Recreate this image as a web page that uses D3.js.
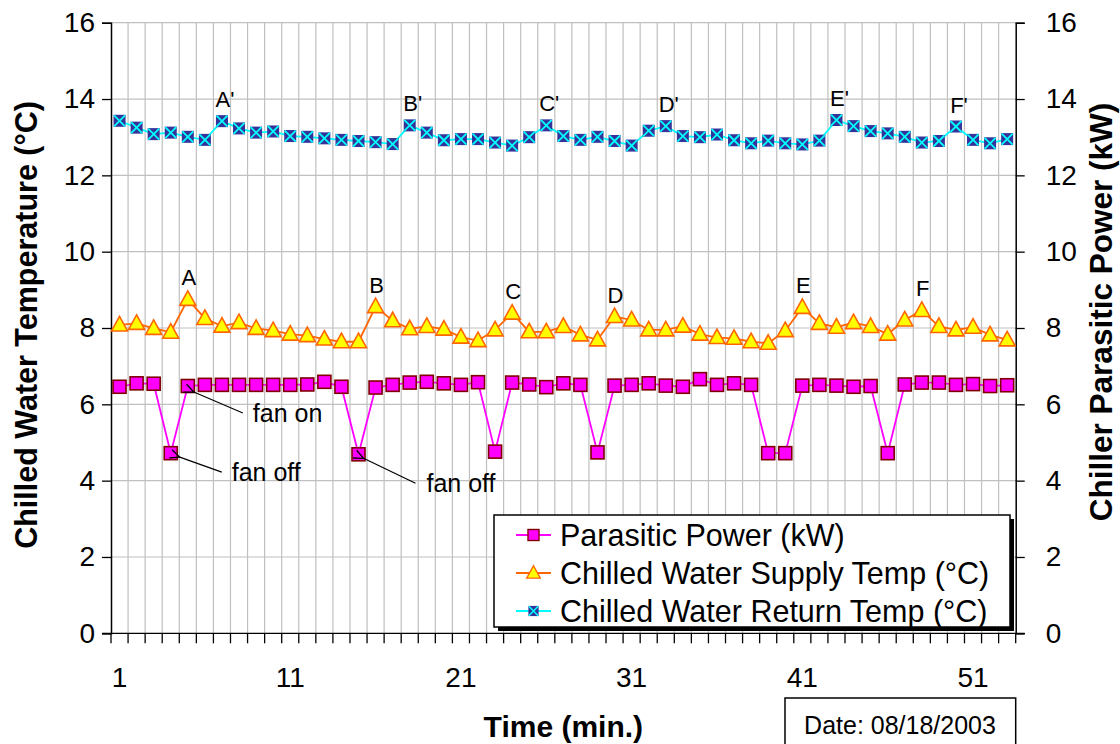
<!DOCTYPE html>
<html>
<head>
<meta charset="utf-8">
<script src="https://cdn.jsdelivr.net/npm/d3@7"></script>
<style>
  html, body { margin: 0; padding: 0; background: #fff; }
  svg { display: block; }
  text { font-family: "Liberation Sans", Arial, sans-serif; }
</style>
</head>
<body>
<svg id="chart" width="1120" height="744"></svg>
<script>
// Minute index (1..53)
const minutes = d3.range(1, 54);

// Chiller parasitic power, kW (right axis)
const parasiticPower = [
  6.46, 6.55, 6.54, 4.72, 6.48, 6.51, 6.51, 6.51, 6.51, 6.51,
  6.51, 6.52, 6.59, 6.46, 4.69, 6.44, 6.51, 6.57, 6.59, 6.55,
  6.51, 6.58, 4.76, 6.57, 6.52, 6.45, 6.55, 6.51, 4.74, 6.49,
  6.51, 6.55, 6.49, 6.46, 6.66, 6.51, 6.55, 6.51, 4.72, 4.72,
  6.49, 6.51, 6.49, 6.46, 6.48, 4.72, 6.52, 6.57, 6.57, 6.51,
  6.53, 6.48, 6.50
];

// Chilled water supply temperature, °C
const supplyTemp = [
  8.08, 8.12, 7.99, 7.89, 8.75, 8.25, 8.05, 8.14, 7.99, 7.93,
  7.84, 7.80, 7.71, 7.64, 7.64, 8.56, 8.19, 7.98, 8.04, 7.97,
  7.76, 7.67, 7.95, 8.39, 7.90, 7.90, 8.04, 7.82, 7.69, 8.30,
  8.21, 7.95, 7.95, 8.05, 7.84, 7.75, 7.73, 7.64, 7.60, 7.93,
  8.54, 8.12, 8.02, 8.14, 8.04, 7.84, 8.21, 8.46, 8.04, 7.95,
  8.02, 7.82, 7.69
];

// Chilled water return temperature, °C
const returnTemp = [
  13.43, 13.25, 13.08, 13.12, 13.01, 12.93, 13.42, 13.23, 13.12, 13.15,
  13.03, 13.01, 12.97, 12.93, 12.90, 12.87, 12.82, 13.31, 13.12, 12.92,
  12.95, 12.95, 12.86, 12.78, 13.00, 13.31, 13.03, 12.93, 13.01, 12.90,
  12.78, 13.17, 13.29, 13.03, 13.00, 13.07, 12.92, 12.84, 12.91, 12.84,
  12.81, 12.91, 13.45, 13.29, 13.16, 13.10, 13.01, 12.86, 12.90, 13.28,
  12.93, 12.84, 12.95
];

// Axis ticks
const tempTicks = [0, 2, 4, 6, 8, 10, 12, 14, 16];
const powerTicks = [0, 2, 4, 6, 8, 10, 12, 14, 16];
const minuteLabels = [1, 11, 21, 31, 41, 51];

// Peak markers
const supplyPeaks = [[5, "A"], [16, "B"], [24, "C"], [30, "D"], [41, "E"], [48, "F"]];
const returnPeaks = [[7, "A'"], [18, "B'"], [26, "C'"], [33, "D'"], [43, "E'"], [50, "F'"]];

// Fan events (minute, text) on the power series
const fanNotes = [[5, "fan on"], [4, "fan off"], [15, "fan off"]];

// ---------------------------------------------------------------
const svg = d3.select("#chart");
const plot = { left: 111, right: 1015.7, top: 22.7, bottom: 633.3 };

const x = d3.scaleBand().domain(minutes).range([plot.left, plot.right]).padding(0);
const cx = m => x(m) + x.bandwidth() / 2;
const yT = d3.scaleLinear().domain([0, 16]).range([plot.bottom, plot.top]);
const yP = d3.scaleLinear().domain([0, 16]).range([plot.bottom, plot.top]);

const gridColor = "#c0c0c0";

// vertical grid at every minute boundary
const grid = svg.append("g");
grid.selectAll("line.v").data(minutes.slice(1)).join("line")
  .attr("x1", d => x(d)).attr("x2", d => x(d))
  .attr("y1", plot.top).attr("y2", plot.bottom)
  .attr("stroke", gridColor).attr("stroke-width", 1.2);
// horizontal grid
grid.selectAll("line.h").data(tempTicks.slice(1)).join("line")
  .attr("x1", plot.left).attr("x2", plot.right)
  .attr("y1", d => yT(d)).attr("y2", d => yT(d))
  .attr("stroke", gridColor).attr("stroke-width", 1.2);

// Axes
const tickFont = "28px";
const leftAxis = d3.axisLeft(yT).tickValues(tempTicks).tickSize(9).tickPadding(7).tickFormat(d3.format("d"));
const gl = svg.append("g").attr("transform", `translate(${plot.left},0)`).call(leftAxis);
const rightAxis = d3.axisRight(yP).tickValues(powerTicks).tickSize(9).tickPadding(21).tickFormat(d3.format("d"));
const gr = svg.append("g").attr("transform", `translate(${plot.right},0)`).call(rightAxis);

// bottom axis: ticks on minute boundaries, labels at minute centres
const boundaries = minutes.map(m => x(m)).concat([plot.right]);
const gb = svg.append("g");
gb.append("line").attr("x1", plot.left - 9).attr("x2", plot.right + 9)
  .attr("y1", plot.bottom).attr("y2", plot.bottom).attr("stroke", "#000").attr("stroke-width", 1.3);
gb.selectAll("line.t").data(boundaries).join("line")
  .attr("x1", d => d).attr("x2", d => d)
  .attr("y1", plot.bottom).attr("y2", plot.bottom + 10)
  .attr("stroke", "#000").attr("stroke-width", 1.3);
gb.selectAll("text").data(minuteLabels).join("text")
  .attr("x", d => cx(d)).attr("y", plot.bottom + 54)
  .attr("text-anchor", "middle").attr("font-size", tickFont).attr("fill", "#000")
  .text(d => d);

[gl, gr].forEach(g => {
  g.select(".domain").attr("stroke", "#000").attr("stroke-width", 1.5);
  g.selectAll(".tick line").attr("stroke", "#000").attr("stroke-width", 1.3);
  g.selectAll(".tick text").attr("font-size", tickFont).attr("font-family", "Liberation Sans, Arial, sans-serif").attr("fill", "#000");
});

// Axis titles
svg.append("text")
  .attr("transform", `translate(37,${(plot.top + plot.bottom) / 2 - 3}) rotate(-90)`)
  .attr("text-anchor", "middle").attr("font-size", "30.5px").attr("font-weight", "bold")
  .text("Chilled Water Temperature (°C)");
svg.append("text")
  .attr("transform", `translate(1112,${(plot.top + plot.bottom) / 2 - 16}) rotate(-90)`)
  .attr("text-anchor", "middle").attr("font-size", "31.5px").attr("font-weight", "bold")
  .text("Chiller Parasitic Power (kW)");
svg.append("text")
  .attr("x", (plot.left + plot.right) / 2).attr("y", 737)
  .attr("text-anchor", "middle").attr("font-size", "30px").attr("font-weight", "bold")
  .text("Time (min.)");

// Series
const series = [
  { name: "Parasitic Power (kW)", values: parasiticPower, y: yP, line: "#ff00ff", marker: "square" },
  { name: "Chilled Water Supply Temp (°C)", values: supplyTemp, y: yT, line: "#ff6600", marker: "triangle" },
  { name: "Chilled Water Return Temp (°C)", values: returnTemp, y: yT, line: "#00ffff", marker: "xsquare" }
];

function drawMarker(g, type, px, py) {
  if (type === "square") {
    g.append("rect").attr("x", px - 6.5).attr("y", py - 6.5).attr("width", 13).attr("height", 13)
      .attr("fill", "#ff00ff").attr("stroke", "#800000").attr("stroke-width", 1.6);
  } else if (type === "triangle") {
    g.append("path").attr("d", `M${px},${py - 8.5}L${px + 8},${py + 6}L${px - 8},${py + 6}Z`)
      .attr("fill", "#ffff00").attr("stroke", "#ff6600").attr("stroke-width", 1.6);
  } else {
    g.append("rect").attr("x", px - 6).attr("y", py - 6).attr("width", 12).attr("height", 12)
      .attr("fill", "#333399");
    g.append("path").attr("d", `M${px - 5.5},${py - 5.5}L${px + 5.5},${py + 5.5}M${px + 5.5},${py - 5.5}L${px - 5.5},${py + 5.5}`)
      .attr("stroke", "#00ffff").attr("stroke-width", 1.8);
  }
}

series.slice().reverse().forEach(s => {
  const g = svg.append("g");
  const line = d3.line().x((d, i) => cx(minutes[i])).y(d => s.y(d));
  g.append("path").datum(s.values).attr("d", line)
    .attr("fill", "none").attr("stroke", s.line).attr("stroke-width", 1.8);
  s.values.forEach((v, i) => drawMarker(g, s.marker, cx(minutes[i]), s.y(v)));
});

// Peak letters
const peakFont = "22px";
supplyPeaks.forEach(([m, t]) => {
  svg.append("text").attr("x", cx(m) + 1).attr("y", yT(supplyTemp[m - 1]) - 14)
    .attr("text-anchor", "middle").attr("font-size", peakFont).text(t);
});
returnPeaks.forEach(([m, t]) => {
  svg.append("text").attr("x", cx(m) + 3).attr("y", yT(returnTemp[m - 1]) - 14)
    .attr("text-anchor", "middle").attr("font-size", peakFont).text(t);
});

// Fan annotations with arrows
svg.append("defs").append("marker")
  .attr("id", "arrowhead").attr("viewBox", "0 0 10 10").attr("refX", 1).attr("refY", 5)
  .attr("markerWidth", 9).attr("markerHeight", 9).attr("orient", "auto-start-reverse")
  .append("path").attr("d", "M10,1L1,5L10,9").attr("fill", "none").attr("stroke", "#000").attr("stroke-width", 1.2);

const noteOffsets = [
  { ax: 6, ay: 6, tx: 55, ty: 27, lx: 65 },
  { ax: 9, ay: 4, tx: 51, ty: 19, lx: 61 },
  { ax: 5, ay: 4, tx: 57, ty: 29, lx: 68 }
];
fanNotes.forEach(([m, t], k) => {
  const o = noteOffsets[k];
  const px = cx(m), py = yP(parasiticPower[m - 1]);
  svg.append("line")
    .attr("x1", px + o.ax).attr("y1", py + o.ay)
    .attr("x2", px + o.tx).attr("y2", py + o.ty)
    .attr("stroke", "#000").attr("stroke-width", 1.2)
    .attr("marker-start", "url(#arrowhead)");
  svg.append("text").attr("x", px + o.lx).attr("y", py + o.ty + 9)
    .attr("font-size", "25px").text(t);
});

// Legend
const lg = { x: 494, y: 515, w: 516, h: 112 };
const legend = svg.append("g");
legend.append("rect").attr("x", lg.x + 4).attr("y", lg.y + 4).attr("width", lg.w).attr("height", lg.h).attr("fill", "#000");
legend.append("rect").attr("x", lg.x).attr("y", lg.y).attr("width", lg.w).attr("height", lg.h)
  .attr("fill", "#fff").attr("stroke", "#000").attr("stroke-width", 1.5);
series.forEach((s, i) => {
  const ry = lg.y + 20 + i * 38;
  legend.append("line").attr("x1", lg.x + 22).attr("x2", lg.x + 57).attr("y1", ry).attr("y2", ry)
    .attr("stroke", s.line).attr("stroke-width", 1.8);
  const mg = legend.append("g");
  drawMarker(mg, s.marker, lg.x + 39.5, ry);
  mg.attr("transform", `translate(${lg.x + 39.5},${ry}) scale(0.85) translate(${-(lg.x + 39.5)},${-ry})`);
  legend.append("text").attr("x", lg.x + 66).attr("y", ry + 10.5)
    .attr("font-size", "30.5px").text(s.name);
});

// Date box
svg.append("rect").attr("x", 785).attr("y", 698).attr("width", 230.7).attr("height", 60)
  .attr("fill", "#fff").attr("stroke", "#000").attr("stroke-width", 1.5);
svg.append("text").attr("x", 900).attr("y", 734)
  .attr("text-anchor", "middle").attr("font-size", "25px")
  .attr("font-family", "Liberation Serif, Times New Roman, serif")
  .text("Date: 08/18/2003");
</script>
</body>
</html>
